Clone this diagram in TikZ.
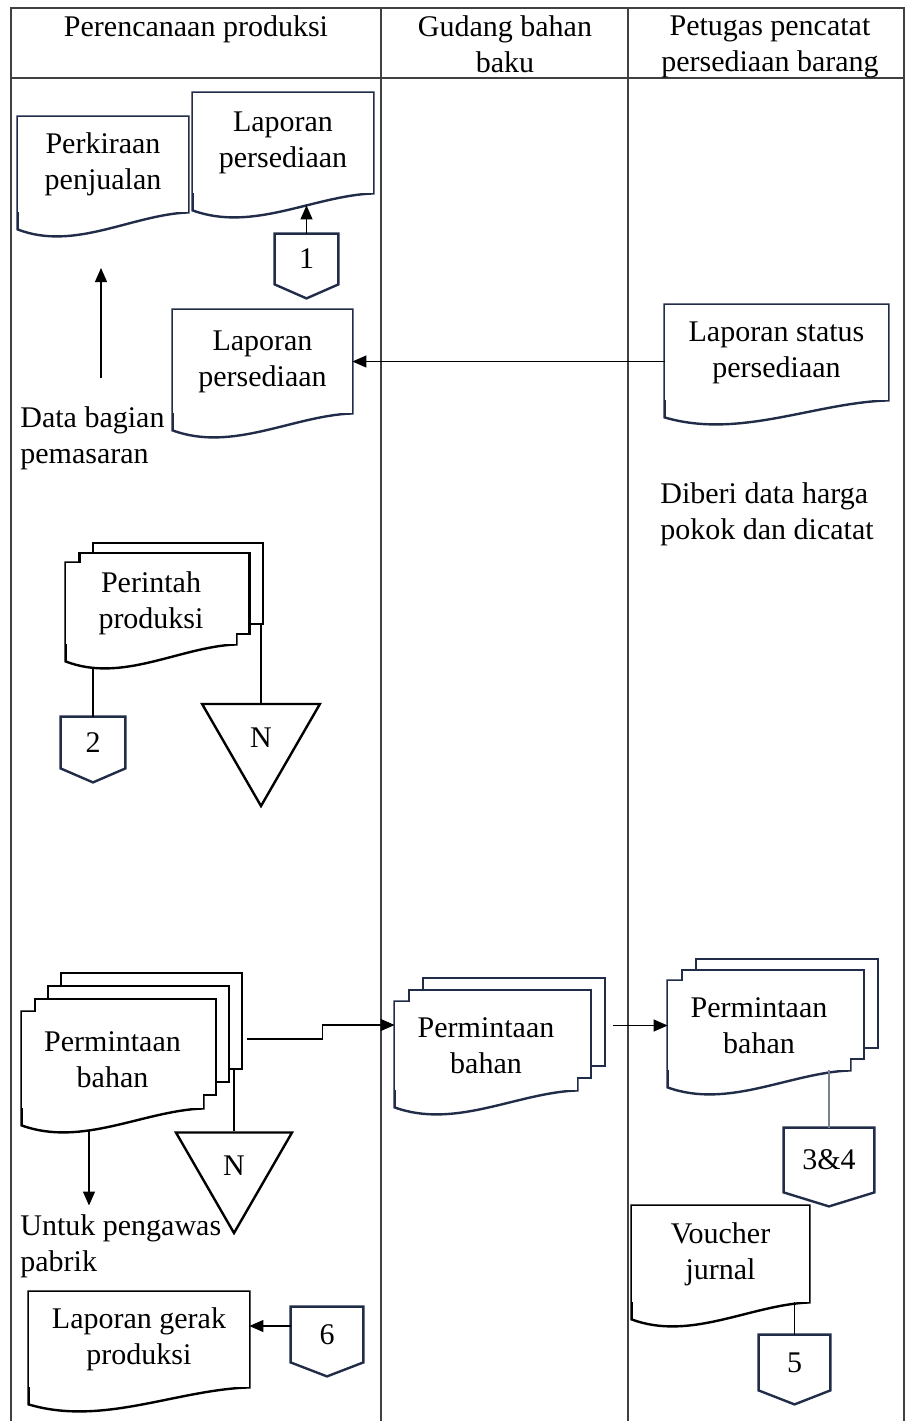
\documentclass[tikz,border=0pt]{standalone}
\usepackage{fontspec}
\setmainfont{Liberation Serif}
\usetikzlibrary{arrows.meta,calc,shapes.geometric,shadows}
\definecolor{navy}{RGB}{33,45,72}
\definecolor{lanegray}{RGB}{64,64,64}
\newcommand{\bodyfont}{\fontsize{15pt}{18pt}\selectfont}

\begin{document}
\begin{tikzpicture}[x=0.5pt,y=-0.5pt]
        \tikzstyle{lane}=[draw=lanegray, line width=1pt]
        \tikzstyle{head}=[font=\bodyfont, inner sep=0pt, align=center, anchor=north]
        \tikzstyle{label}=[font=\bodyfont, inner sep=0pt, align=left, anchor=north west]
        \tikzstyle{flow}=[draw, line width=0.6pt, -{Triangle[length=7pt,width=6pt]}]
        \tikzstyle{link}=[draw, line width=0.6pt]
        \tikzstyle{merge}=[draw, line width=1.2pt, regular polygon, regular polygon sides=3, shape border rotate=180, inner sep=0pt, font=\bodyfont]
        \tikzset{
          doc/.style={fill=white, inner sep=0pt, align=center, font=\bodyfont,
            append after command={\pgfextra{\draw[draw=#1, line width=1.2pt]
              (\tikzlastnode.north west) -- (\tikzlastnode.north east) -- (\tikzlastnode.south east)
              .. controls ($(\tikzlastnode.south west)!0.667!(\tikzlastnode.south east)+(0pt,-1.2pt)$)
              and ($(\tikzlastnode.south west)!0.333!(\tikzlastnode.south east)+(0pt,-19.5pt)$)
              .. ([yshift=-8.5pt]\tikzlastnode.south west) -- cycle;}}},
          offpage/.style={inner sep=0pt, font=\bodyfont,
            append after command={\pgfextra{\draw[draw=navy, line width=1.2pt]
              (\tikzlastnode.north west) -- (\tikzlastnode.north east) -- (\tikzlastnode.south east)
              -- ([yshift=-7pt]\tikzlastnode.south) -- (\tikzlastnode.south west) -- cycle;}}},
          sheet/.style n args={3}{copy shadow={shadow xshift=#1, shadow yshift=#2, draw=#3, line width=1.2pt, fill=white}}
        }
        \useasboundingbox (0,0) rectangle (905,1421);

        % lanes
        \draw[lane] (11,1421) -- (11,8) -- (904,8) -- (904,1421);
        \draw[lane] (11,78) -- (904,78);
        \draw[lane] (381,8) -- (381,1421);
        \draw[lane] (628,8) -- (628,1421);
        \node[head] (hProd) at (196,15) {Perencanaan produksi};
        \node[head] (hGud) at (505,15) {Gudang bahan\\baku};
        \node[head] (hPet) at (770,15) {Petugas pencatat\\persediaan barang};

        % perencanaan produksi
        \node[doc=navy, minimum width=85pt, minimum height=47.5pt] (perkiraan) at (103,164.5) {Perkiraan\\penjualan};
        \node[doc=navy, minimum width=90pt, minimum height=50pt] (lapTop) at (283,143) {Laporan\\persediaan};
        \node[offpage, minimum width=31.5pt, minimum height=25pt] (con1) at (306.5,259) {1};
        \node[doc=navy, minimum width=89.5pt, minimum height=51.5pt] (lapMid) at (262.5,361.5) {Laporan\\persediaan};
        \node[label] (data) at (20,406.5) {Data bagian\\pemasaran};
        \coordinate (dataFoot) at (101,378);
        \coordinate (dataTop) at (101,268);
        \node[doc=black, minimum width=85pt, minimum height=40.5pt,
              sheet={13.5pt}{10pt}{black}, sheet={6.75pt}{5pt}{black}] (perintah) at (151,603.5) {Perintah\\produksi};
        \node[offpage, minimum width=32pt, minimum height=25.5pt] (con2) at (93,742.5) {2};
        \node[merge, minimum size=68pt] (N1) at (261,738) {N};
        \node[doc=black, minimum width=90.5pt, minimum height=48pt,
              sheet={19.5pt}{19.5pt}{black}, sheet={13pt}{13pt}{black}, sheet={6.5pt}{6.5pt}{black}] (permA) at (112.5,1060) {Permintaan\\bahan};
        \node[merge, minimum size=67pt] (N2) at (234,1166) {N};
        \node[label] (untuk) at (20,1214.5) {Untuk pengawas\\pabrik};
        \node[doc=black, minimum width=110pt, minimum height=47.5pt] (lapGerak) at (139,1339.5) {Laporan gerak\\produksi};
        \node[offpage, minimum width=36pt, minimum height=27.5pt] (con6) at (327,1334.5) {6};

        % gudang bahan baku
        \node[doc=navy, minimum width=91pt, minimum height=44pt,
              sheet={14pt}{12pt}{navy}, sheet={7pt}{6pt}{navy}] (permB) at (486,1046) {Permintaan\\bahan};

        % petugas pencatat
        \node[doc=navy, minimum width=111.5pt, minimum height=47.5pt] (lapStatus) at (776.5,352.5) {Laporan status\\persediaan};
        \node[label] (diberi) at (660,482.5) {Diberi data harga\\pokok dan dicatat};
        \node[doc=navy, minimum width=91pt, minimum height=44.5pt,
              sheet={14pt}{11pt}{navy}, sheet={7pt}{5.5pt}{navy}] (permC) at (759,1025.5) {Permintaan\\bahan};
        \node[offpage, minimum width=45pt, minimum height=32pt] (con34) at (829,1160) {3\&4};
        \node[doc=black, minimum width=88.5pt, minimum height=48pt] (voucher) at (720.5,1254) {Voucher\\jurnal};
        \node[offpage, minimum width=35.5pt, minimum height=27.5pt] (con5) at (794.5,1362.5) {5};

        % connectors
        \path[flow, shorten >=6pt] (con1.north) -- (lapTop.south -| con1.north);
        \path[flow] (dataFoot) -- (dataTop);
        \path[flow] (lapStatus.west |- lapMid.east) -- (lapMid.east);
        \path[link, shorten >=11.5pt] (con2.north) -- (perintah.south -| con2.north);
        \path[link] (N1.north) -- ([yshift=10pt]perintah.south -| N1.north);
        \path[flow, shorten <=11pt, shorten >=4.5pt] ([xshift=-11.75pt]permA.south) -- ([xshift=-11.75pt]permA.south |- untuk.north);
        \path[link] (N2.north) -- ([yshift=19.5pt]permA.south -| N2.north);
        \path[flow] ([xshift=22pt,yshift=10.5pt]permA.east) -- ++(75,0) |- ([yshift=10.5pt]permB.west);
        \path[flow] ([xshift=18pt]permB.east |- permC.west) -- (permC.west);
        \path[link, draw=navy!60] (con34.north) -- (permC.south -| con34.north);
        \path[link] (con5.north) -- (voucher.south -| con5.north);
        \path[flow] ([yshift=4.25pt]con6.west) -- ([yshift=4.25pt]con6.west -| lapGerak.east);
\end{tikzpicture}
\end{document}
